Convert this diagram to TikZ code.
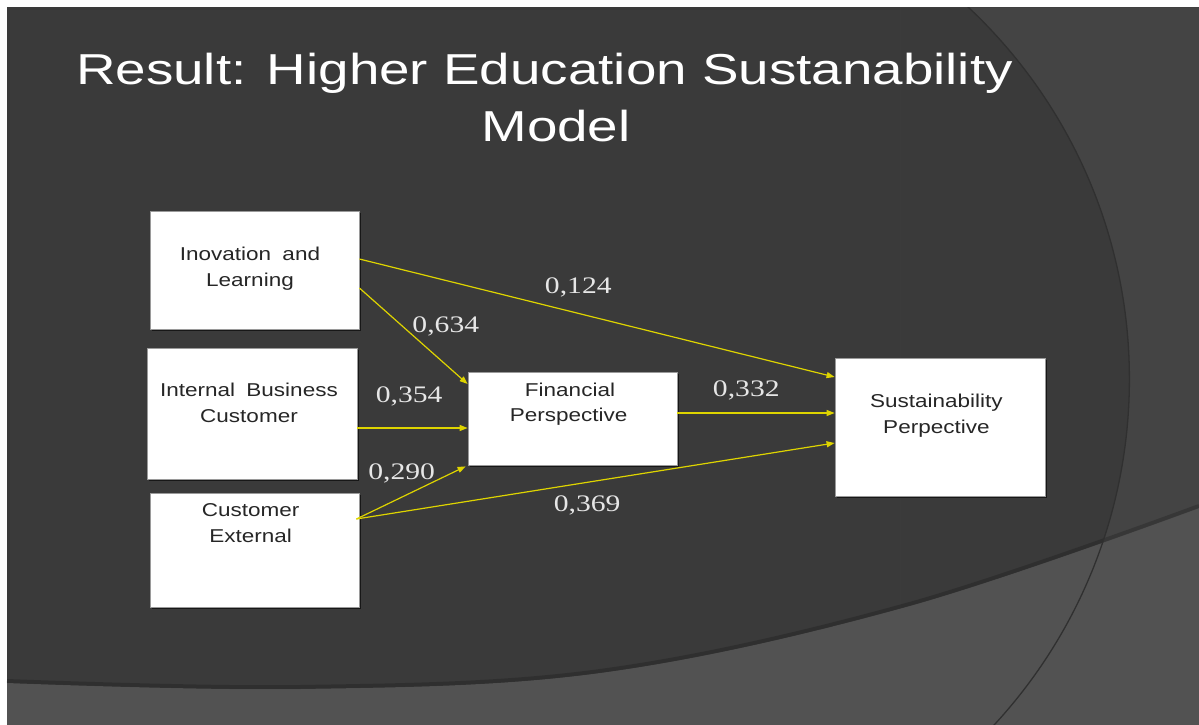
\documentclass[tikz,border=0pt]{standalone}
\usepackage{fontspec}
\setmainfont{Liberation Sans}
\newfontfamily\titlefont[FakeStretch=1.265]{Liberation Sans}
\newfontfamily\boxfont[FakeStretch=1.21]{Liberation Sans}
\newfontfamily\numfont[FakeStretch=1.25]{Liberation Serif}
\usetikzlibrary{arrows.meta,calc,shadows}
\definecolor{bgdark}{HTML}{3A3A3A}
\definecolor{bgright}{HTML}{444444}
\definecolor{bglow}{HTML}{525252}
\definecolor{arcline}{HTML}{303030}
\definecolor{pathyel}{RGB}{222,212,0}
\definecolor{numgray}{HTML}{E6E6E6}
\definecolor{boxline}{HTML}{9A9A9A}
\begin{document}
\begin{tikzpicture}[x=1pt,y=-1pt,
  modelbox/.style={draw=boxline, line width=0.8pt, fill=white, rectangle, inner sep=0pt,
    drop shadow={shadow xshift=1.5pt, shadow yshift=-1.5pt, opacity=0.6, fill=black}},
  boxtext/.style={anchor=base, inner sep=0pt, text=black!85, font=\boxfont\fontsize{18.6}{22}\selectfont},
  num/.style={anchor=base, inner sep=0pt, text=numgray, font=\numfont\fontsize{23.7}{26}\selectfont},
  link/.style={draw=pathyel, line width=1.2pt, -{Triangle[length=8pt,width=6pt]}},
  titletext/.style={anchor=base, inner sep=0pt, text=white, font=\titlefont\fontsize{43.3}{50}\selectfont}
]
\useasboundingbox (0,0) rectangle (1199,725);
% background
\fill[white] (0,0) rectangle (1199,725);
\fill[bgdark] (7,7) rectangle (1199,725);
\begin{scope}
  \clip (900,7.5) rectangle (1199,725);
  \fill[bgright, even odd rule] (900,7.5) rectangle (1199,725) (619.7,379.1) circle[radius=509.7];
\end{scope}
\fill[bglow] (7,683) plot[smooth,tension=0.6] coordinates {(7,683) (300,689) (600,673) (906,607) (1199,508)} -- (1199,725) -- (7,725) -- cycle;
\draw[black, opacity=0.18, line width=4pt, yshift=2pt] plot[smooth,tension=0.6] coordinates {(7,683) (300,689) (600,673) (906,607) (1199,508)};
\begin{scope}
  \clip (900,7.5) rectangle (1199,725);
  \draw[arcline, line width=1.3pt] (619.7,379.1) circle[radius=509.7];
\end{scope}
% title
\node[titletext] (title1) at (544.5,84.3) {Result: Higher Education Sustanability};
\node[titletext] (title2) at (556,141.5) {Model};
% boxes
\node[modelbox, minimum width=209pt, minimum height=118pt] (inov) at (254.5,270) {};
\node[modelbox, minimum width=210pt, minimum height=131pt] (intb) at (252,413.5) {};
\node[modelbox, minimum width=209pt, minimum height=114pt] (cust) at (254.5,550) {};
\node[modelbox, minimum width=209pt, minimum height=93pt] (fin) at (572.5,418.5) {};
\node[modelbox, minimum width=210pt, minimum height=138pt] (sus) at (940,427) {};
% box texts
\node[boxtext] (inovA) at (250,260) {Inovation\hspace{5pt} and};
\node[boxtext] (inovB) at (250,286) {Learning};
\node[boxtext] (intbA) at (249,396.7) {Internal\hspace{5pt} Business};
\node[boxtext] (intbB) at (249,422.7) {Customer};
\node[boxtext] (custA) at (250.7,516.7) {Customer};
\node[boxtext] (custB) at (250.7,542.3) {External};
\node[boxtext] (finA) at (570,396) {Financial};
\node[boxtext] (finB) at (568.7,421) {Perspective};
\node[boxtext] (susA) at (936.4,407.7) {Sustainability};
\node[boxtext] (susB) at (936.4,433.3) {Perpective};
% connectors
\coordinate (custout) at ([xshift=-3pt,yshift=31pt]cust.east);
\draw[link] ([yshift=11pt]inov.east) -- ([yshift=50pt]sus.west);
\draw[link] ([yshift=-18pt]inov.east) -- ([yshift=34.5pt]fin.west);
\draw[link] ([yshift=-14.5pt]intb.east) -- ([yshift=-9.5pt]fin.west);
\draw[link] (custout) -- ([xshift=-2pt,yshift=-1pt]fin.south west);
\draw[link] (custout) -- ([yshift=-16pt]sus.west);
\draw[link] ([yshift=5.5pt]fin.east) -- ([yshift=14pt]sus.west);
% labels
\node[num] (l124) at (578.3,293.3) {0,124};
\node[num] (l634) at (445.8,332.7) {0,634};
\node[num] (l354) at (409.2,402.7) {0,354};
\node[num] (l290) at (401.7,479.3) {0,290};
\node[num] (l369) at (587.2,511.7) {0,369};
\node[num] (l332) at (746.3,396) {0,332};
\end{tikzpicture}
\end{document}
